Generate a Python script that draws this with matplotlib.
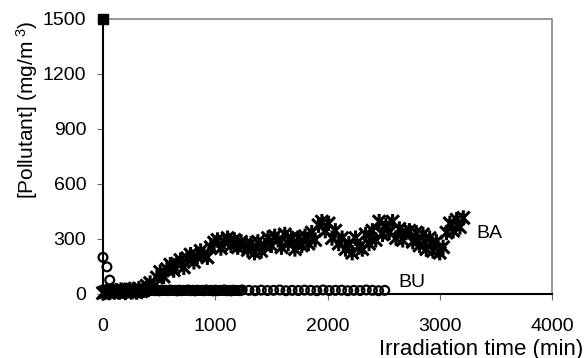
import numpy as np
import matplotlib
matplotlib.use("Agg")
import matplotlib.pyplot as plt
from matplotlib.path import Path

plt.rcParams['font.family'] = ['Liberation Sans', 'DejaVu Sans']
plt.rcParams['mathtext.fontset'] = 'custom'
plt.rcParams['mathtext.rm'] = 'Liberation Sans'
plt.rcParams['mathtext.it'] = 'Liberation Sans'

# ---- data ----
initial_time = [0]
initial_conc = [1500]

ba_early_time = np.arange(0, 360, 20)
ba_early_conc = [5, 10, 15, 8, 20, 12, 18, 10, 22, 15, 8, 20, 25, 12, 18, 10, 30, 15]

ba_time = np.arange(360, 3240, 30)
ba_conc = [20, 45, 60, 40, 90, 120, 95, 135, 160, 130,
           165, 185, 145, 195, 215, 175, 205, 235, 215, 200,
           255, 280, 295, 250, 285, 305, 265, 295, 255, 285,
           265, 240, 275, 225, 285, 235, 265, 305, 265, 315,
           295, 255, 325, 275, 305, 245, 305, 265, 315, 275,
           335, 295, 375, 395, 345, 385, 305, 345, 275, 305,
           245, 275, 225, 305, 255, 245, 325, 275, 345, 295,
           395, 325, 375, 335, 395, 305, 355, 295, 335, 345,
           285, 335, 265, 325, 245, 305, 235, 285, 225, 255,
           335, 385, 345, 405, 365, 415]

bu_head_time = [0, 35, 60]
bu_head_conc = [200, 148, 76]

bu_dense_time = np.arange(80, 1260, 20)
bu_dense_conc = [20, 18, 22, 16, 20, 19, 21, 17, 20, 18,
                 22, 19, 20, 18, 21, 17, 20, 19, 22, 18,
                 20, 17, 21, 19, 20, 18, 22, 19, 20, 17,
                 21, 18, 20, 19, 22, 18, 20, 17, 21, 19,
                 20, 18, 22, 19, 20, 17, 21, 18, 20, 19,
                 22, 18, 20, 17, 21, 19, 20, 18, 22]

bu_sparse_time = np.arange(1300, 2520, 55)
bu_sparse_conc = [20, 18, 21, 19, 20, 22, 18, 20, 19, 21,
                  20, 18, 22, 19, 20, 21, 18, 20, 19, 22,
                  20, 18, 20]

label_ba = "BA"
label_bu = "BU"
x_ticks = [0, 1000, 2000, 3000, 4000]
y_ticks = [0, 300, 600, 900, 1200, 1500]

# ---- marker: Excel-style star (X with vertical bar) ----
star = Path([(-1, -1), (1, 1), (-1, 1), (1, -1), (0, -1.2), (0, 1.2)],
            [Path.MOVETO, Path.LINETO, Path.MOVETO, Path.LINETO, Path.MOVETO, Path.LINETO])

fig = plt.figure(figsize=(5.84, 3.58), dpi=100)
ax = fig.add_axes([103/584, 1-294/358, (552-103)/584, (294-19)/358])

ba_t = np.concatenate([ba_early_time, ba_time])
ba_c = np.concatenate([ba_early_conc, ba_conc])
ax.scatter(ba_t, ba_c, marker=star, s=120, facecolors='none', edgecolors='black',
           linewidths=2.2, zorder=3, clip_on=False)

bu_t = np.concatenate([bu_head_time, bu_dense_time, bu_sparse_time])
bu_c = np.concatenate([bu_head_conc, bu_dense_conc, bu_sparse_conc])
ax.scatter(bu_t, bu_c, marker='o', s=40, facecolors='none', edgecolors='black',
           linewidths=1.6, zorder=3, clip_on=False)

ax.scatter(initial_time, initial_conc, marker='s', s=55, color='black', zorder=4, clip_on=False)

ax.text(3330, 330, label_ba, fontsize=14, va='center', ha='left')
ax.text(2630, 65, label_bu, fontsize=14, va='center', ha='left')

ax.set_xlim(0, 4000)
ax.set_ylim(0, 1500)
ax.set_xticks(x_ticks)
ax.set_yticks(y_ticks)
ax.tick_params(axis='both', labelsize=14, length=4, width=0.8, color='#666666',
               direction='out')
ax.tick_params(axis='x', pad=13)
ax.tick_params(axis='y', pad=8)

for s in ['left', 'bottom']:
    ax.spines[s].set_linewidth(1.5)
    ax.spines[s].set_color('black')
for s in ['top', 'right']:
    ax.spines[s].set_linewidth(1.2)
    ax.spines[s].set_color('#888888')
    ax.spines[s].set_linestyle((0, (1, 1)))

fig.text(27/584, 1-110/358, "[Pollutant] (mg/m$^{\\ 3}$)", fontsize=15,
         rotation=90, ha='center', va='center')
fig.text(583/584, 1-349/358, "Irradiation time (min)", fontsize=16, ha='right', va='center')

fig.savefig("out.png", dpi=100)
